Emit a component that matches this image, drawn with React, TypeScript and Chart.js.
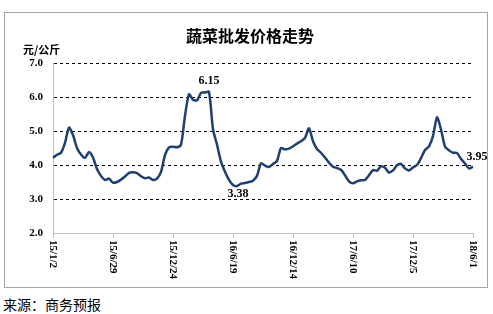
import React, { useEffect, useRef } from "react";
import { Chart, registerables } from "chart.js";

Chart.register(...registerables);

const title = "蔬菜批发价格走势";
const unitLabel = "元/公斤";
const sourceText = "来源：商务预报";
const tickLabels = ["15/1/2", "15/6/29", "15/12/24", "16/6/19", "16/12/14", "17/6/10", "17/12/5", "18/6/1"];
const pointsPerTick = 15;
const prices = [
  4.21, 4.30, 4.36, 4.65, 5.10, 4.88, 4.50, 4.31, 4.21, 4.38,
  4.22, 3.88, 3.68, 3.56, 3.60, 3.48, 3.50, 3.57, 3.66, 3.77,
  3.79, 3.76, 3.67, 3.61, 3.63, 3.56, 3.60, 3.80, 4.29, 4.52,
  4.54, 4.52, 4.60, 5.45, 6.08, 5.92, 5.90, 6.12, 6.13, 6.15,
  5.05, 4.60, 4.10, 3.80, 3.56, 3.41, 3.38, 3.45, 3.47, 3.50,
  3.54, 3.68, 4.05, 3.98, 3.94, 4.03, 4.12, 4.50, 4.46, 4.48,
  4.55, 4.63, 4.70, 4.80, 5.08, 4.70, 4.47, 4.36, 4.22, 4.07,
  3.95, 3.91, 3.86, 3.70, 3.52, 3.46, 3.52, 3.55, 3.56, 3.70,
  3.85, 3.83, 3.96, 3.92, 3.78, 3.84, 3.99, 4.03, 3.90, 3.84,
  3.93, 4.00, 4.20, 4.44, 4.55, 4.85, 5.40, 5.05, 4.54, 4.43,
  4.36, 4.35, 4.18, 4.04, 3.90, 3.95,
];
const annotated = [
  { index: 39, text: "6.15", dx: 0, dy: -11 },
  { index: 46, text: "3.38", dx: 1, dy: 8 },
  { index: 105, text: "3.95", dx: 4, dy: -10 },
];
const yMin = 2;
const yMax = 7;

const labels = prices.map((_, i) => (i % pointsPerTick === 0 ? tickLabels[i / pointsPerTick] : ""));

const overlayPlugin = {
  id: "overlay",
  afterDraw(chart: any) {
    const { ctx, chartArea, scales } = chart;
    const xs = scales.x;
    const ys = scales.y;
    ctx.save();
    // title
    ctx.fillStyle = "#000";
    ctx.font = "bold 16px 'Noto Sans CJK SC', sans-serif";
    ctx.textAlign = "center";
    ctx.textBaseline = "middle";
    ctx.fillText(title, 250, 36);
    // unit
    ctx.font = "bold 11px 'Noto Sans CJK SC', sans-serif";
    ctx.textAlign = "left";
    ctx.fillText(unitLabel, 23, 50);
    // x tick labels rotated clockwise
    ctx.font = "bold 11px 'Liberation Serif', 'Times New Roman', serif";
    ctx.textAlign = "left";
    ctx.textBaseline = "middle";
    xs.ticks.forEach((t: any) => {
      const x = xs.getPixelForValue(t.value);
      ctx.save();
      ctx.translate(x, chartArea.bottom + 7);
      ctx.rotate(Math.PI / 2);
      ctx.fillText(labels[t.value], 0, 0);
      ctx.restore();
    });
    // data labels
    ctx.font = "bold 12px 'Liberation Serif', 'Times New Roman', serif";
    ctx.textAlign = "center";
    annotated.forEach((a) => {
      const x = xs.getPixelForValue(a.index) + a.dx;
      const y = ys.getPixelForValue(prices[a.index]) + a.dy;
      ctx.fillText(a.text, x, y);
    });
    ctx.restore();
  },
};

export default function App() {
  const ref = useRef<HTMLCanvasElement | null>(null);
  useEffect(() => {
    document.body.style.margin = "0";
    const canvas = ref.current;
    if (!canvas) return;
    const chart = new Chart(canvas, {
      type: "line",
      data: {
        labels,
        datasets: [
          {
            data: prices,
            borderColor: "#1F3F73",
            borderWidth: 2.5,
            pointRadius: 0,
            tension: 0.25,
            fill: false,
          },
        ],
      },
      options: {
        responsive: false,
        animation: false,
        devicePixelRatio: 1,
        layout: { padding: { top: 63, right: 20, left: 0, bottom: 0 } },
        plugins: { legend: { display: false }, tooltip: { enabled: false }, title: { display: false } },
        scales: {
          x: {
            type: "category",
            offset: false,
            afterBuildTicks: (scale: any) => {
              scale.ticks = scale.ticks.filter((t: any) => t.value % pointsPerTick === 0);
            },
            afterFit: (scale: any) => {
              scale.height = 57;
            },
            ticks: { display: false, autoSkip: false },
            grid: { drawOnChartArea: false, drawTicks: true, tickLength: 5, color: "#bfbfbf" },
            border: { display: true, color: "#bfbfbf", width: 1 },
          },
          y: {
            min: yMin,
            max: yMax,
            afterFit: (scale: any) => {
              scale.width = 53;
            },
            ticks: {
              stepSize: 1,
              padding: 10,
              color: "#000",
              font: { family: "'Liberation Serif', 'Times New Roman', serif", size: 11, weight: "bold" },
              callback: (v: any) => Number(v).toFixed(1),
            },
            grid: {
              drawTicks: false,
              color: (c: any) => (c.tick && c.tick.value === yMin ? "rgba(0,0,0,0)" : "#000"),
              lineWidth: 1,
            },
            border: { display: true, color: "#bfbfbf", width: 1, dash: [3, 3] },
          },
        },
      },
      plugins: [overlayPlugin],
    } as any);
    return () => chart.destroy();
  }, []);
  return (
    <div style={{ position: "relative", width: 493, height: 314, background: "#fff", overflow: "hidden" }}>
      <div
        style={{
          position: "absolute",
          left: 4,
          top: 12,
          width: 484,
          height: 276,
          border: "1px solid #a6a6a6",
          boxSizing: "border-box",
        }}
      />
      <canvas ref={ref} width={493} height={290} style={{ position: "absolute", left: 0, top: 0, width: 493, height: 290 }} />
      <div
        style={{
          position: "absolute",
          left: 3,
          top: 296,
          fontFamily: "'Noto Sans CJK SC', sans-serif",
          fontSize: 14,
          lineHeight: "16px",
          color: "#000",
          whiteSpace: "nowrap",
        }}
      >
        {sourceText}
      </div>
    </div>
  );
}
